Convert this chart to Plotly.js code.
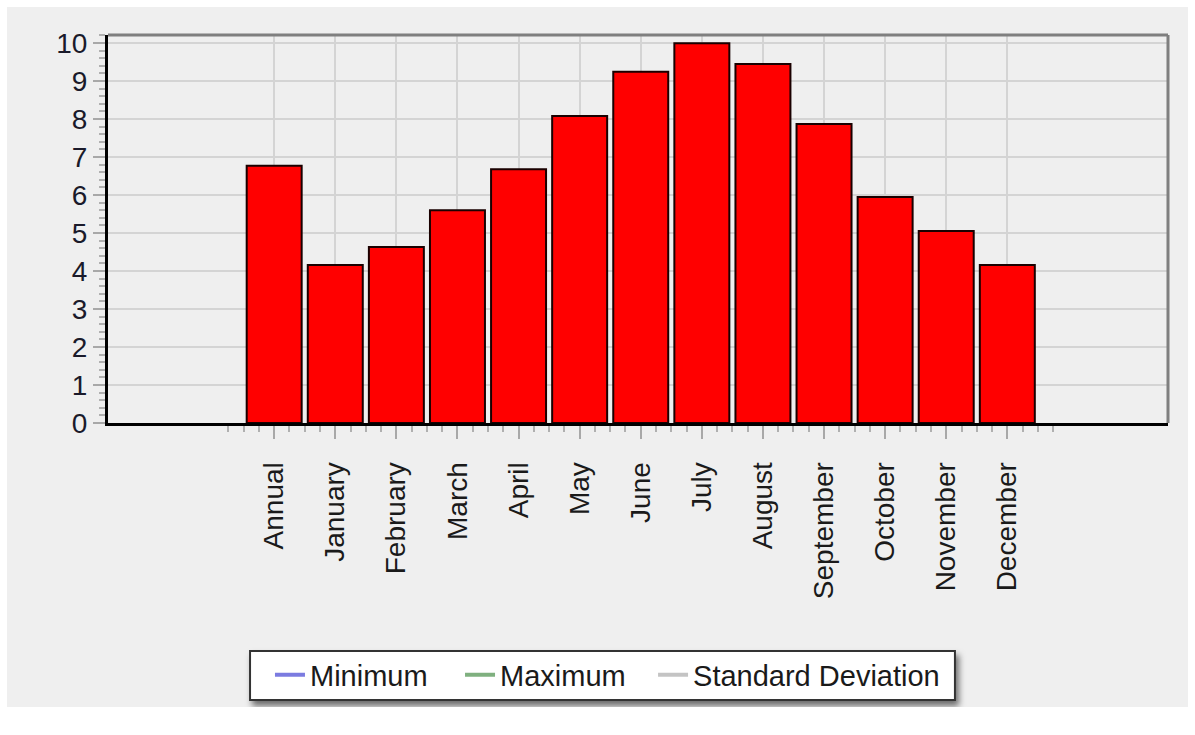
<!DOCTYPE html>
<html><head><meta charset="utf-8">
<script src="https://cdn.plot.ly/plotly-3.0.1.min.js"></script>
<style>
html,body{margin:0;padding:0;background:#fff;}
#chart{position:absolute;left:7px;top:7px;width:1181px;height:700px;}
.layer-below .shapelayer path{filter:drop-shadow(3px 5px 3px rgba(0,0,0,0.55));}
</style></head><body><div id="chart"></div>
<script>
const categories = ["Annual","January","February","March","April","May","June","July","August","September","October","November","December"];
const values = [6.77, 4.16, 4.63, 5.60, 6.68, 8.08, 9.24, 9.99, 9.45, 7.87, 5.95, 5.05, 4.16];
const legendNames = ["Minimum", "Maximum", "Standard Deviation"];
const legendColors = ["#7b7be0", "#7fb07f", "#c4c4c4"];
// these series have no visible values in the chart (legend only)
const minimumValues = [null];
const maximumValues = [null];
const stdDevValues = [null];
const yTickValues = [0,1,2,3,4,5,6,7,8,9,10];

const idx = categories.map((c, i) => i);
const minorX = [];
for (let q = -3; q <= (categories.length - 1) * 4 + 3; q++) { if (q % 4 !== 0) minorX.push(q / 4); }

const font = "Liberation Sans, Arial, sans-serif";
const legendIds = ["legend", "legend2", "legend3"];
const legendX = [0.1528, 0.3321, 0.5142];

const traces = [{
  type: "bar", x: idx, y: values, showlegend: false, hoverinfo: "skip",
  marker: {color: "#ff0000", line: {color: "#1a0000", width: 2}}
}];
[minimumValues, maximumValues, stdDevValues].forEach((arr, k) => {
  traces.push({type: "scatter", mode: "lines", name: legendNames[k], x: arr, y: arr,
    legend: legendIds[k], line: {color: legendColors[k], width: 4}});
});

const layout = {
  paper_bgcolor: "#efefef", plot_bgcolor: "#efefef",
  margin: {l: 101, r: 20, t: 28, b: 284},
  bargap: 0.1,
  font: {family: font, color: "#1a1a1a"},
  xaxis: {
    type: "linear", range: [-2.72, 14.63], tickmode: "array", tickvals: idx, ticktext: categories,
    tickangle: -90, tickfont: {size: 28, color: "#1a1a1a"},
    ticks: "outside", ticklen: 13, tickwidth: 2, tickcolor: "#a8a8a8",
    ticklabelstandoff: 12,
    showgrid: true, gridcolor: "#d4d4d4", gridwidth: 2,
    showline: true, linecolor: "#000", linewidth: 3, zeroline: false,
    minor: {tickmode: "array", tickvals: minorX, ticks: "outside", ticklen: 6, tickwidth: 2, tickcolor: "#b0b0b0", showgrid: false}
  },
  yaxis: {
    range: [0, 10.21], tickmode: "array", tickvals: yTickValues,
    tickfont: {size: 28, color: "#1a1a2a"},
    ticks: "outside", ticklen: 12, tickwidth: 2, tickcolor: "#a8a8a8",
    showgrid: true, gridcolor: "#d4d4d4", gridwidth: 2,
    showline: true, linecolor: "#000", linewidth: 3, zeroline: false,
    minor: {dtick: 0.2, ticks: "outside", ticklen: 6, tickwidth: 2, tickcolor: "#b0b0b0", showgrid: false}
  },
  shapes: [
    {type: "line", xref: "paper", yref: "paper", x0: 0, x1: 1, y0: 1, y1: 1, line: {color: "#7f7f7f", width: 3}},
    {type: "line", xref: "paper", yref: "paper", x0: 1, x1: 1, y0: 0, y1: 1, line: {color: "#7f7f7f", width: 3}},
    {type: "rect", layer: "below", xref: "paper", yref: "paper", x0: 0.134, x1: 0.799, y0: -0.7139, y1: -0.5876,
      fillcolor: "#ffffff", line: {color: "#333333", width: 2}}
  ],
  showlegend: true
};
legendIds.forEach((id, k) => {
  layout[id] = {
    orientation: "h", x: legendX[k], xanchor: "left", yref: "container", y: 0.0457, yanchor: "middle",
    bgcolor: "rgba(0,0,0,0)", borderwidth: 0,
    font: {size: 29, color: "#1a1a1a"}, itemwidth: 30
  };
});
Plotly.newPlot("chart", traces, layout, {displayModeBar: false, staticPlot: true});
</script></body></html>
